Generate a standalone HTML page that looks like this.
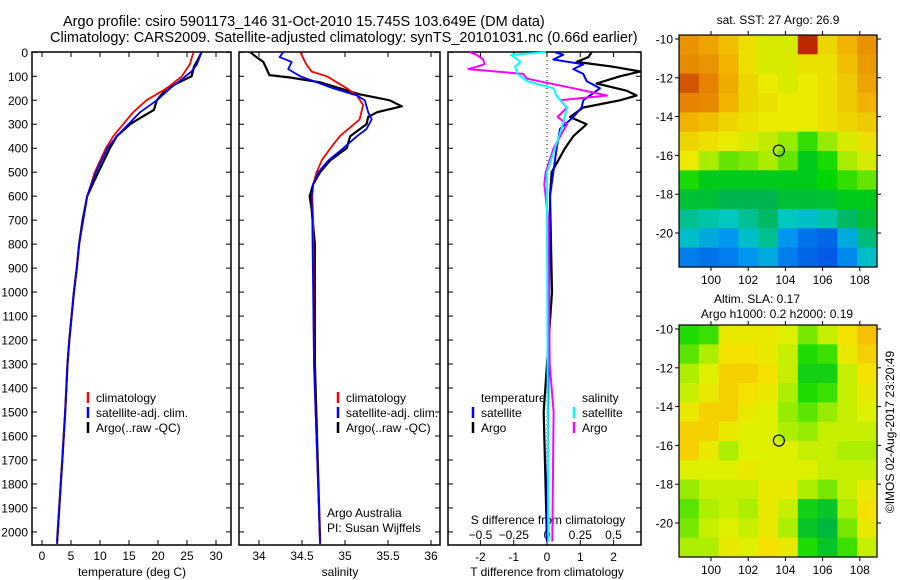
<!DOCTYPE html>
<html><head><meta charset="utf-8"><style>
body{margin:0;background:#fff;width:900px;height:580px;overflow:hidden}
svg{display:block;font-family:"Liberation Sans",sans-serif}
</style></head><body>
<svg id="chart" width="900" height="580" xmlns="http://www.w3.org/2000/svg">
<text x="63" y="26" font-size="14.5">Argo profile: csiro 5901173_146 31-Oct-2010 15.745S 103.649E (DM data)</text>
<text x="50" y="42" font-size="14.5">Climatology: CARS2009. Satellite-adjusted climatology: synTS_20101031.nc (0.66d earlier)</text>
</svg>
<script>
// ---- data ----
const depthTicks=[0,100,200,300,400,500,600,700,800,900,1000,1100,1200,1300,1400,1500,1600,1700,1800,1900,2000];
const tempTicks=[0,5,10,15,20,25,30];
const salTicks=[34,34.5,35,35.5,36];
const tdiffTicks=[-2,-1,0,1,2];
const sdiffTicks=[-0.5,-0.25,0,0.25,0.5];
const sdiffTickLabels=["-0.5","-0.25","0","0.25","0.5"];

const tClimDepth=[0,50,100,150,200,250,300,350,400,500,600,700,800,900,1000,1100,1200,1300,1500,1700,1850,2050];
const tClimVal=[26.1,25.5,24.1,21.5,18.0,15.7,14.0,12.3,11.0,9.1,7.8,7.1,6.4,6.0,5.5,5.1,4.7,4.4,4.0,3.5,3.1,2.6];
const tSatDepth=[0,50,80,150,200,250,300,350,400,500,600,700,800,900,1000,1100,1200,1300,1500,1700,1850,2050];
const tSatVal=[27.5,26.7,25.8,22.1,19.8,16.9,14.9,12.9,11.3,9.3,7.8,7.1,6.4,6.0,5.5,5.1,4.7,4.4,4.0,3.5,3.1,2.6];
const tArgoDepth=[0,30,60,100,150,200,240,270,300,350,400,500,600,700,800,900,1000,1100,1200,1300,1500,1700,1850,2040];
const tArgoVal=[27.5,26.9,26.2,25.8,21.5,19.8,19.3,17.2,15.2,12.9,11.7,9.7,7.8,7.0,6.4,6.0,5.5,5.1,4.7,4.4,4.0,3.5,3.1,2.6];

const sClimDepth=[0,50,80,100,150,180,220,280,350,400,450,500,550,600,700,1300,2050];
const sClimVal=[34.48,34.55,34.61,34.79,35.02,35.14,35.21,35.17,34.94,34.83,34.73,34.67,34.63,34.62,34.63,34.64,34.71];
const sSatDepth=[0,20,40,70,100,130,150,180,200,250,280,320,350,400,450,500,550,600,700,1300,2050];
const sSatVal=[34.28,34.24,34.38,34.34,34.48,34.71,34.86,35.14,35.23,35.27,35.31,35.25,35.14,34.98,34.81,34.69,34.63,34.61,34.62,34.64,34.71];
const sArgoDepth=[0,20,40,70,95,105,125,150,175,200,225,250,270,300,350,400,450,500,550,600,650,800,1300,2040];
const sArgoVal=[33.9,33.97,34.05,34.09,34.12,34.36,34.71,34.94,35.17,35.52,35.66,35.37,35.27,35.25,35.06,35.02,34.83,34.71,34.63,34.59,34.61,34.65,34.65,34.71];

const dTArgoDepth=[0,20,40,60,80,100,130,160,180,200,230,270,300,350,400,500,600,1000,1500,2040];
const dTArgoVal=[1.34,1.24,0.89,1.98,2.8,2.19,1.49,2.39,2.69,2.19,1.09,0.69,1.19,0.79,0.54,0.14,0.09,0.15,-0.1,0];
const dTSatDepth=[0,10,30,50,70,90,120,150,200,230,270,320,400,500,600,2040];
const dTSatVal=[0.24,0.49,0.19,1.09,0.79,1.09,1.19,1.59,1.09,1.04,0.79,0.39,0.29,0.19,0.09,0];
const dSArgoDepth=[0,10,30,50,70,90,110,150,180,200,230,270,300,350,400,500,550,700,1300,1500,2040];
const dSArgoVal=[-0.58,-0.53,-0.48,-0.47,-0.59,-0.18,-0.15,0.2,0.45,0.1,0.15,0.08,0.15,0.1,0.05,-0.01,-0.02,0.01,0.02,0.05,0.04];
const dSSatDepth=[0,10,40,60,90,120,150,180,230,300,400,500,700,2040];
const dSSatVal=[-0.01,-0.27,-0.2,-0.24,-0.22,-0.15,0.05,0.07,0.15,0.12,0.06,0,0,0.01];

const lonTicks=[100,102,104,106,108];
const latTicks=[-10,-12,-14,-16,-18,-20];
const argoLon=103.65, argoLat=-15.75;
const sstGrid=[
[28,27.8,27.5,27.2,27,27,28.6,27.3,27.6,28],
[28.1,28,27.6,27.2,27,27,27.2,27.2,27.5,27.9],
[28.4,28.2,27.7,27.3,27.1,27,27.1,27.2,27.4,27.8],
[28.2,28.1,27.6,27.3,27.2,27.1,27.1,27.2,27.4,27.6],
[27.6,27.5,27.3,27.2,27.1,27.1,27.1,27.2,27.3,27.4],
[27.3,27.2,27.1,27,26.9,26.7,26.3,26.7,27.0,27.2],
[27.1,26.8,26.5,26.6,26.8,26.5,26,26.2,26.8,27.0],
[26.2,26,26,26,26,26,26,26.1,26.3,26.5],
[25.9,25.9,25.8,25.8,25.8,25.9,25.9,25.9,26,26],
[25.5,25.4,25.3,25.5,25.7,25.3,25.2,25.4,25.7,25.9],
[25.2,25,24.8,25.2,25.5,24.8,24.5,24.4,25,25.6],
[24.6,24.5,24.6,24.8,25,24.6,24.4,24.3,24.7,25.2]];
const slaGrid=[
[.12,.13,.2,.2,.2,.19,.15,.18,.21,.23],
[.14,.17,.21,.21,.2,.18,.12,.13,.2,.22],
[.17,.19,.22,.22,.21,.18,.11,.11,.18,.21],
[.18,.2,.22,.21,.2,.17,.12,.13,.18,.2],
[.2,.22,.22,.2,.19,.16,.14,.16,.18,.19],
[.22,.22,.2,.19,.19,.17,.16,.18,.18,.18],
[.22,.2,.17,.19,.19,.19,.18,.18,.17,.17],
[.19,.19,.19,.2,.19,.19,.19,.18,.18,.18],
[.16,.18,.18,.18,.2,.2,.17,.15,.18,.2],
[.14,.17,.18,.17,.2,.18,.11,.1,.17,.21],
[.15,.18,.19,.18,.2,.17,.1,.09,.15,.2],
[.17,.17,.2,.19,.21,.2,.12,.1,.13,.18]];

// ---- helpers ----
const svg=document.getElementById('chart');
const NS='http://www.w3.org/2000/svg';
function mk(tag,attrs,parent){const e=document.createElementNS(NS,tag);for(const k in attrs)e.setAttribute(k,attrs[k]);(parent||svg).appendChild(e);return e;}
function txt(x,y,s,size,anchor,parent){const t=mk('text',{x:x,y:y,'font-size':size||12,'text-anchor':anchor||'start'},parent);t.textContent=s;return t;}

const PT=52,PB=545;
const yD=d=>52.3+d*0.2398;
const panels=[
 {L:32,R:231,x:v=>42+v*5.8,name:'temperature-panel'},
 {L:239,R:440,x:v=>345+(v-35)*86,name:'salinity-panel'},
 {L:448,R:641,x:v=>547+v*33.3,name:'difference-panel'}];
const xS=v=>547+v*133;

panels.forEach((p,i)=>{
 const g=mk('g',{});
 
 
 const r=mk('rect',{x:p.L,y:PT,width:p.R-p.L,height:PB-PT,fill:'none',stroke:'#000','stroke-width':1.5},g);
 
 
 depthTicks.forEach(d=>{
  mk('line',{x1:p.L,x2:p.L+5,y1:yD(d),y2:yD(d),stroke:'#000'},g);
  mk('line',{x1:p.R-5,x2:p.R,y1:yD(d),y2:yD(d),stroke:'#000'},g);
  if(i===0){const t=txt(28,yD(d)+4.5,String(d),12,'end',g);
   
   }
 });
 p.g=g;
});
// x ticks
function xticks(p,ticks,labels,ylab,fx){
 ticks.forEach((v,k)=>{const x=(fx||p.x)(v);
  mk('line',{x1:x,x2:x,y1:PT,y2:PT+5,stroke:'#000'},p.g);
  mk('line',{x1:x,x2:x,y1:PB-5,y2:PB,stroke:'#000'},p.g);
  const t=txt(x,ylab,labels?labels[k]:String(v),12,'middle',p.g);
  
  });
}
xticks(panels[0],tempTicks,null,560);
xticks(panels[1],salTicks,null,560);
xticks(panels[2],tdiffTicks,null,561);
sdiffTicks.forEach((v,k)=>{const t=txt(xS(v),539,sdiffTickLabels[k].replace('-','\u22120'.slice(0,1)),12,'middle',panels[2].g);
 
 });
let t;
t=txt(132,576,'temperature (deg C)',12,'middle');


t=txt(340,576,'salinity',12,'middle');


t=txt(547,576,'T difference from climatology',12,'middle');


t=txt(548,524,'S difference from climatology',12,'middle');


// zero line
const zl=mk('line',{x1:547,x2:547,y1:PT,y2:PB,stroke:'#000','stroke-dasharray':'1,3'});



function line(depths,vals,fx,color,name,w){
 const pts=depths.map((d,k)=>fx(vals[k]).toFixed(1)+','+yD(d).toFixed(1)).join(' ');
 const l=mk('polyline',{points:pts,fill:'none',stroke:color,'stroke-width':w||2,'stroke-linejoin':'round'});
 
 
}
const fT=panels[0].x,fS=panels[1].x,fD=panels[2].x;
line(tArgoDepth,tArgoVal,fT,'#000','temp-argo-line',2.2);
line(tClimDepth,tClimVal,fT,'#f00','temp-climatology-line',1.8);
line(tSatDepth,tSatVal,fT,'#00f','temp-satellite-line',1.8);
line(sArgoDepth,sArgoVal,fS,'#000','sal-argo-line',2.2);
line(sClimDepth,sClimVal,fS,'#f00','sal-climatology-line',1.8);
line(sSatDepth,sSatVal,fS,'#00f','sal-satellite-line',1.8);
line(dTArgoDepth,dTArgoVal,fD,'#000','tdiff-argo-line',2.2);
line(dTSatDepth,dTSatVal,fD,'#00f','tdiff-satellite-line',2);
line(dSArgoDepth,dSArgoVal,xS,'#f0f','sdiff-argo-line',2);
line(dSSatDepth,dSSatVal,xS,'#0ff','sdiff-satellite-line',2);

// legends
function legend(x,y,color,label){
 const g=mk('g',{});
 
 
 mk('line',{x1:x,x2:x,y1:y-10,y2:y+1,stroke:color,'stroke-width':2.5},g);
 txt(x+8,y,label,12,'start',g);
}
[[88,'#f00','climatology'],[88,'#00f','satellite-adj. clim.'],[88,'#000','Argo(..raw -QC)']].forEach((e,k)=>legend(e[0],402+k*15,e[1],e[2]));
[[338,'#f00','climatology'],[338,'#00f','satellite-adj. clim.'],[338,'#000','Argo(..raw -QC)']].forEach((e,k)=>legend(e[0],402+k*15,e[1],e[2]));
t=txt(481,402,'temperature',12);


t=txt(582,402,'salinity',12);


legend(473,417,'#00f','satellite');legend(473,432,'#000','Argo');
legend(574,417,'#0ff','satellite');legend(574,432,'#f0f','Argo');
t=txt(327,517,'Argo Australia',12);


t=txt(327,532,'PI: Susan Wijffels',12);



// ---- maps ----
function lerp(a,b,f){return a.map((v,i)=>Math.round(v+(b[i]-v)*f));}
function cmap(stops,v){if(v<=stops[0][0])return stops[0][1];
 for(let i=1;i<stops.length;i++){if(v<=stops[i][0]){const f=(v-stops[i-1][0])/(stops[i][0]-stops[i-1][0]);return lerp(stops[i-1][1],stops[i][1],f);}}
 return stops[stops.length-1][1];}
const sstStops=[[24.3,[0,90,230]],[24.8,[0,150,240]],[25.3,[0,200,190]],[25.8,[0,180,80]],[26.1,[0,215,0]],[26.7,[150,235,0]],[27.1,[235,235,0]],[27.6,[240,180,0]],[28.2,[230,130,0]],[28.6,[190,40,0]]];
const slaStops=[[0.09,[0,185,60]],[0.12,[30,220,0]],[0.16,[150,235,0]],[0.19,[220,240,0]],[0.21,[245,225,0]],[0.24,[245,175,0]]];

function drawMap(top,grid,stops,name,ylat0){
 const L=679,R=877,B=top+232;
 const lonX=lo=>711+(lo-100)*18.6;
 const latY=la=>ylat0+(-10-la)*19.4;
 const g=mk('g',{});
 
 
 const nr=grid.length,nc=grid[0].length,cw=(R-L)/nc,ch=(B-top)/nr;
 grid.forEach((row,r)=>row.forEach((v,c)=>{
  const col=cmap(stops,v);
  const cell=mk('rect',{x:(L+c*cw).toFixed(2),y:(top+r*ch).toFixed(2),width:(cw+0.6).toFixed(2),height:(ch+0.6).toFixed(2),fill:'rgb('+col.join(',')+')'},g);
  
  
 }));
 mk('rect',{x:L,y:top,width:R-L,height:B-top,fill:'none',stroke:'#000','stroke-width':1.2},g);
 lonTicks.forEach(lo=>{const x=lonX(lo);
  mk('line',{x1:x,x2:x,y1:top,y2:top-4,stroke:'#000'},g);
  mk('line',{x1:x,x2:x,y1:B,y2:B+4,stroke:'#000'},g);
  const tl=txt(x,B+17,String(lo),12,'middle',g);
  
  });
 latTicks.forEach(la=>{const y=latY(la);
  mk('line',{x1:L,x2:L-4,y1:y,y2:y,stroke:'#000'},g);
  mk('line',{x1:R,x2:R+4,y1:y,y2:y,stroke:'#000'},g);
  const tl=txt(L-6,y+4.5,String(la).replace('-','-'),12,'end',g);
  
  });
 const c=mk('circle',{cx:lonX(argoLon),cy:latY(argoLat),r:5.5,fill:'none',stroke:'#000','stroke-width':1.2},g);
 
 
}
drawMap(35,sstGrid,sstStops,'sst-map',39);
drawMap(325,slaGrid,slaStops,'sla-map',329);
t=txt(778,24,'sat. SST: 27 Argo: 26.9',12,'middle');


t=txt(757,303,'Altim. SLA: 0.17',12,'middle');


t=txt(777,318,'Argo h1000: 0.2 h2000: 0.19',12,'middle');


t=txt(0,0,'\u00a9IMOS 02-Aug-2017 23:20:49',12,'middle');
t.setAttribute('transform','translate(894,432) rotate(-90)');


</script>
</body></html>
